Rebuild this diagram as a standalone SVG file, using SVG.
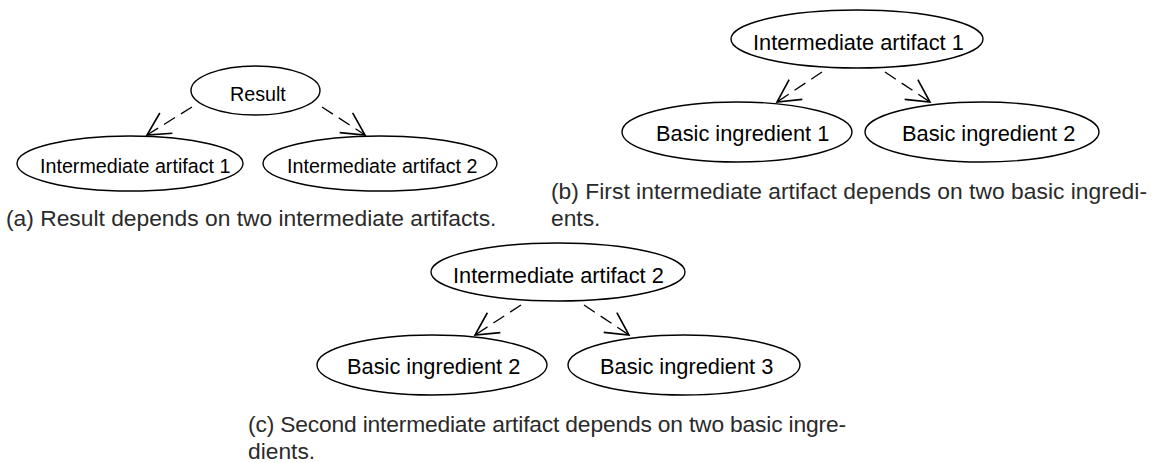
<svg xmlns="http://www.w3.org/2000/svg" width="1171" height="463" viewBox="0 0 1171 463">
<style>
.node ellipse{fill:#fff;stroke:#000;stroke-width:1.4}
.lbl{font-family:"Liberation Sans",Arial,sans-serif;fill:#000}
.la{font-size:19.7px}
.lb{font-size:21.8px}
.cap{font-family:"Liberation Sans",Arial,sans-serif;font-size:22.8px;fill:#2a2a2a}
.edge{fill:none;stroke:#000;stroke-width:1.3;stroke-dasharray:13 7}
</style>
<defs>
<marker id="vee" markerUnits="userSpaceOnUse" markerWidth="30" markerHeight="30" viewBox="-22 -12 24 24" refX="0" refY="0" orient="auto">
<path d="M-18,-9.5 L0,0 L-18,9.5" fill="none" stroke="#000" stroke-width="1.3" stroke-dasharray="none"/>
</marker>
</defs>
<rect width="1171" height="463" fill="#fff"/>
<g id="connectors">
<line class="edge" x1="192" y1="107" x2="147" y2="135" marker-end="url(#vee)"/>
<line class="edge" x1="322" y1="107" x2="365" y2="135" marker-end="url(#vee)"/>
<line class="edge" x1="822" y1="72" x2="777" y2="102" marker-end="url(#vee)"/>
<line class="edge" x1="885" y1="72" x2="930" y2="102" marker-end="url(#vee)"/>
<line class="edge" x1="521" y1="305" x2="475" y2="335" marker-end="url(#vee)"/>
<line class="edge" x1="584" y1="305" x2="629" y2="335" marker-end="url(#vee)"/>
</g>
<g id="a-result" class="node"><ellipse cx="255.5" cy="90.5" rx="64.5" ry="24.5"/><text class="lbl la" x="230" y="101">Result</text></g>
<g id="a-ia1" class="node"><ellipse cx="130" cy="163.5" rx="113" ry="27.5"/><text class="lbl la" x="40" y="173">Intermediate artifact 1</text></g>
<g id="a-ia2" class="node"><ellipse cx="380" cy="163.5" rx="117" ry="27.5"/><text class="lbl la" x="287" y="173">Intermediate artifact 2</text></g>
<text id="cap-a" class="cap" x="6" y="226">(a) Result depends on two intermediate artifacts.</text>
<g id="b-ia1" class="node"><ellipse cx="857" cy="39" rx="126" ry="29"/><text class="lbl lb" x="753" y="50">Intermediate artifact 1</text></g>
<g id="b-bi1" class="node"><ellipse cx="737" cy="132" rx="115" ry="30"/><text class="lbl lb" x="656" y="141">Basic ingredient 1</text></g>
<g id="b-bi2" class="node"><ellipse cx="982" cy="132" rx="117" ry="30"/><text class="lbl lb" x="902" y="141">Basic ingredient 2</text></g>
<text id="cap-b1" class="cap" x="551" y="199" textLength="596" lengthAdjust="spacing">(b) First intermediate artifact depends on two basic ingredi-</text>
<text id="cap-b2" class="cap" x="551" y="226">ents.</text>
<g id="c-ia2" class="node"><ellipse cx="558" cy="272" rx="127" ry="29"/><text class="lbl lb" x="453" y="283">Intermediate artifact 2</text></g>
<g id="c-bi2" class="node"><ellipse cx="432" cy="365" rx="115" ry="30"/><text class="lbl lb" x="347" y="374">Basic ingredient 2</text></g>
<g id="c-bi3" class="node"><ellipse cx="684" cy="365" rx="116" ry="30"/><text class="lbl lb" x="600" y="374">Basic ingredient 3</text></g>
<text id="cap-c1" class="cap" x="248" y="432" textLength="598" lengthAdjust="spacing">(c) Second intermediate artifact depends on two basic ingre-</text>
<text id="cap-c2" class="cap" x="248" y="459">dients.</text>
</svg>
